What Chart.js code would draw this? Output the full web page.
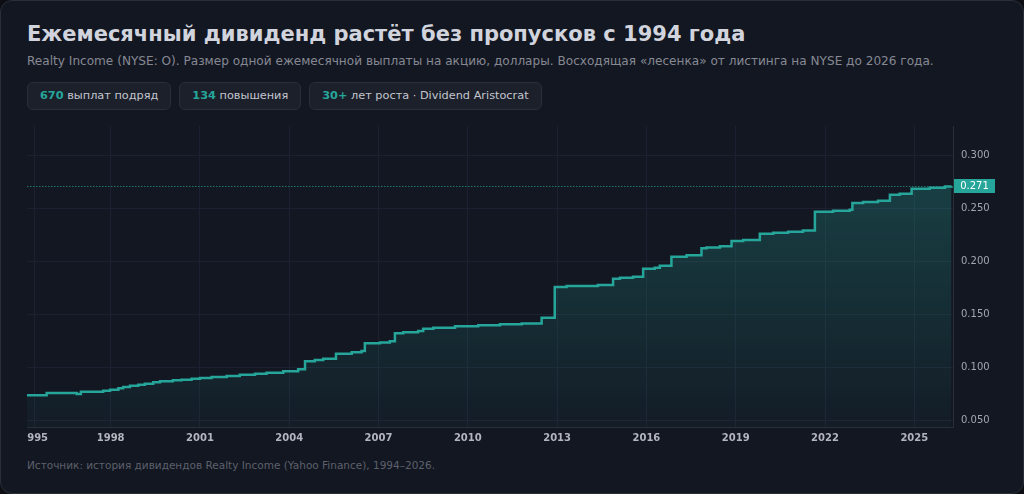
<!DOCTYPE html>
<html lang="ru">
<head>
<meta charset="utf-8">
<title>Realty Income: ежемесячный дивиденд</title>
<script src="https://cdn.jsdelivr.net/npm/chart.js@4.4.1/dist/chart.umd.min.js"></script>
<style>
  html, body { margin: 0; padding: 0; background: #0c0e14; }
  body { width: 1024px; height: 494px; overflow: hidden; font-family: "DejaVu Sans", sans-serif; }
  .card { position: absolute; left: 0; top: 0; width: 1022px; height: 492px; background: #131722; border: 1px solid #2a2e39; border-radius: 12px; }
  h1 { position: absolute; left: 26px; top: 19px; margin: 0; font-size: 21px; line-height: 28px; font-weight: bold; color: #d1d4dc; white-space: nowrap; }
  .sub { position: absolute; left: 26px; top: 51px; font-size: 12.1px; line-height: 18px; color: #868993; white-space: nowrap; }
  .badges { position: absolute; left: 26px; top: 81px; display: flex; gap: 8px; }
  .badge { height: 26px; line-height: 26px; padding: 0 12px; background: #1c202b; border: 1px solid #2a2e39; border-radius: 6px; font-size: 11.3px; color: #c3c6ce; white-space: nowrap; }
  .badge b { color: #26a69a; }
  .chart-box { position: absolute; left: 26px; top: 119px; width: 970px; height: 331px; }
  .src { position: absolute; left: 26px; top: 458px; font-size: 10.5px; color: #5d606b; white-space: nowrap; }
</style>
</head>
<body>
<div class="card">
  <h1>Ежемесячный дивиденд растёт без пропусков с 1994 года</h1>
  <div class="sub">Realty Income (NYSE: O). Размер одной ежемесячной выплаты на акцию, доллары. Восходящая «лесенка» от листинга на NYSE до 2026 года.</div>
  <div class="badges">
    <div class="badge"><b>670</b> выплат подряд</div>
    <div class="badge"><b>134</b> повышения</div>
    <div class="badge"><b>30+</b> лет роста · Dividend Aristocrat</div>
  </div>
  <div class="chart-box"><canvas id="divChart"></canvas></div>
  <div class="src">Источник: история дивидендов Realty Income (Yahoo Finance), 1994–2026.</div>
</div>
<script>
// начало каждой "ступеньки" (в долях года) и размер выплаты на ней
var stepYears = [
  1995.19, 1995.85, 1996.86, 1997.00, 1997.75, 1997.98, 1998.26, 1998.42, 1998.65, 1998.93,
  1999.15, 1999.43, 1999.66, 2000.09, 2000.38, 2000.72, 2001.00, 2001.39, 2001.90, 2002.34,
  2002.85, 2003.24, 2003.80, 2004.30, 2004.53, 2004.86, 2005.14, 2005.57, 2006.10, 2006.43,
  2006.54, 2007.05, 2007.38, 2007.55, 2007.83, 2008.33, 2008.50, 2008.84, 2009.57, 2010.35,
  2011.08, 2011.81, 2012.48, 2012.92, 2013.32, 2014.37, 2014.88, 2015.11, 2015.55, 2015.89,
  2016.28, 2016.45, 2016.84, 2017.35, 2017.85, 2018.02, 2018.47, 2018.86, 2019.25, 2019.81,
  2020.26, 2020.76, 2021.26, 2021.66, 2022.27, 2022.83, 2022.92, 2023.28, 2023.78, 2024.18,
  2024.51, 2024.91, 2025.52, 2026.03, 2026.25
];
var stepValues = [
  0.0734, 0.0755, 0.0746, 0.0768, 0.0777, 0.0786, 0.0800, 0.0812, 0.0824, 0.0834,
  0.0843, 0.0856, 0.0866, 0.0875, 0.0881, 0.0890, 0.0897, 0.0906, 0.0916, 0.0928,
  0.0938, 0.0947, 0.0960, 0.0979, 0.1055, 0.1067, 0.1079, 0.1127, 0.1140, 0.1152,
  0.1225, 0.1234, 0.1244, 0.1320, 0.1329, 0.1341, 0.1363, 0.1372, 0.1386, 0.1395,
  0.1405, 0.1412, 0.1467, 0.1757, 0.1767, 0.1776, 0.1836, 0.1845, 0.1854, 0.1930,
  0.1940, 0.1958, 0.2044, 0.2057, 0.2123, 0.2132, 0.2142, 0.2192, 0.2201, 0.2261,
  0.2270, 0.2280, 0.2291, 0.2469, 0.2478, 0.2488, 0.2551, 0.2561, 0.2573, 0.2630,
  0.2639, 0.2686, 0.2696, 0.2709, 0.2710
];
var xTickValues = [1995.43, 1998, 2001, 2004, 2007, 2010, 2013, 2016, 2019, 2022, 2025];
var xTickLabels = ['1995', '1998', '2001', '2004', '2007', '2010', '2013', '2016', '2019', '2022', '2025'];
var yTickValues = [0.05, 0.10, 0.15, 0.20, 0.25, 0.30];
var lastValue = 0.271;

var teal = '#26a69a';
Chart.defaults.font.family = '"DejaVu Sans", sans-serif';

var points = stepYears.map(function (x, i) {
  return { x: x, y: stepValues[i] };
});

// пунктир текущего уровня и плашка с последним значением
var lastValuePlugin = {
  id: 'lastValue',
  beforeDatasetsDraw: function (chart) {
    var ctx = chart.ctx, area = chart.chartArea;
    var py = Math.round(chart.scales.y.getPixelForValue(lastValue)) + 0.5;
    ctx.save();
    ctx.strokeStyle = 'rgba(38,166,154,0.65)';
    ctx.lineWidth = 1;
    ctx.setLineDash([1.5, 1.5]);
    ctx.beginPath();
    ctx.moveTo(area.left, py);
    ctx.lineTo(area.right, py);
    ctx.stroke();
    ctx.restore();
  },
  afterDraw: function (chart) {
    var ctx = chart.ctx, area = chart.chartArea;
    var py = chart.scales.y.getPixelForValue(lastValue);
    ctx.save();
    ctx.fillStyle = teal;
    ctx.fillRect(area.right + 1, Math.round(py) - 7, 41, 14);
    ctx.fillStyle = '#ffffff';
    ctx.font = '10px "DejaVu Sans", sans-serif';
    ctx.textAlign = 'center';
    ctx.textBaseline = 'middle';
    ctx.fillText(lastValue.toFixed(3), area.right + 21.5, Math.round(py) + 0.5);
    ctx.restore();
  }
};

new Chart(document.getElementById('divChart'), {
  type: 'line',
  data: {
    datasets: [{
      label: 'Дивиденд',
      data: points,
      stepped: true,
      borderColor: teal,
      borderWidth: 2.5,
      pointRadius: 0,
      fill: 'start',
      backgroundColor: function (context) {
        var area = context.chart.chartArea;
        if (!area) return 'rgba(38,166,154,0.15)';
        var g = context.chart.ctx.createLinearGradient(0, area.top, 0, area.bottom);
        g.addColorStop(0, 'rgba(38,166,154,0.34)');
        g.addColorStop(1, 'rgba(38,166,154,0.04)');
        return g;
      }
    }]
  },
  options: {
    responsive: true,
    maintainAspectRatio: false,
    animation: false,
    devicePixelRatio: 1,
    layout: { padding: { top: 6, left: 0, right: 0, bottom: 0 } },
    plugins: {
      legend: { display: false },
      tooltip: { enabled: false }
    },
    scales: {
      x: {
        type: 'linear',
        min: 1995.19,
        max: 2026.30,
        afterBuildTicks: function (scale) {
          scale.ticks = xTickValues.map(function (v) { return { value: v }; });
        },
        afterFit: function (scale) {
          scale.height = 24;
          scale.paddingLeft = 0;
          scale.paddingRight = 0;
        },
        ticks: {
          autoSkip: false,
          maxRotation: 0,
          padding: 5,
          color: '#b2b5be',
          font: { size: 10, weight: 'bold' },
          callback: function (value, index) {
            return xTickLabels[index];
          }
        },
        grid: { color: '#1c2030', drawTicks: false },
        border: { color: '#2a2e39' }
      },
      y: {
        position: 'right',
        min: 0.0434,
        max: 0.328,
        afterBuildTicks: function (scale) {
          scale.ticks = yTickValues.map(function (v) { return { value: v }; });
        },
        afterFit: function (scale) {
          scale.width = 44;
          scale.paddingTop = 0;
          scale.paddingBottom = 0;
        },
        ticks: {
          autoSkip: false,
          padding: 8,
          color: '#a3a6af',
          font: { size: 10 },
          callback: function (value) {
            return value.toFixed(3);
          }
        },
        grid: { color: '#1c2030', drawTicks: false },
        border: { color: '#2a2e39' }
      }
    }
  },
  plugins: [lastValuePlugin]
});
</script>
</body>
</html>
